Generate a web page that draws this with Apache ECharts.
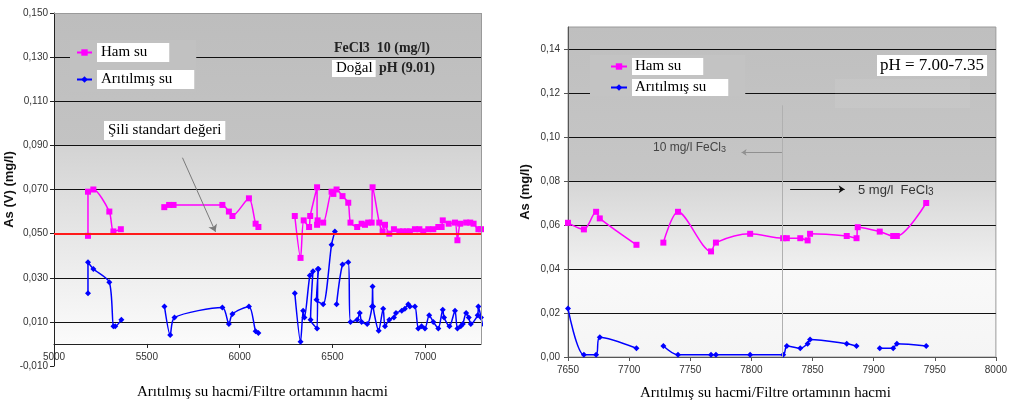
<!DOCTYPE html>
<html>
<head>
<meta charset="utf-8">
<script src="https://cdn.jsdelivr.net/npm/echarts@6/dist/echarts.min.js"></script>
<style>html,body{margin:0;padding:0;background:#fff;}#c{width:1010px;height:407px;}</style>
</head>
<body>
<div id="c"></div>
<script>
// ---------- DATA (null = gap in the line) ----------
const seriesNames = ['Ham su', 'Arıtılmış su'];

// Left panel (FeCl3 10 mg/l, natural pH)
const hamLeftX = [5183,5183,5212,5298,5320,5360,null,
  5594,5620,5644,5907,5942,5961,6050,6086,6101,null,
  6297,6328,6345,6374,6380,6417,6417,6420,6450,6495,6505,6522,6554,6585,6597,6633,6657,6675,6692,6711,6716,6752,6770,6783,6806,6831,6860,6880,6900,6917,6944,6968,6989,7016,7043,7070,7088,7094,7126,7160,7173,7188,7220,7242,7260,7286,7300];
const hamLeftY = [0.049,0.069,0.070,0.060,0.051,0.052,null,
  0.062,0.063,0.063,0.063,0.060,0.058,0.066,0.0545,0.053,null,
  0.058,0.039,0.056,0.053,0.058,0.071,0.054,0.056,0.055,0.069,0.068,0.070,0.067,0.064,0.055,0.053,0.0545,0.054,0.055,0.055,0.071,0.055,0.051,0.054,0.050,0.052,0.051,0.051,0.051,0.051,0.052,0.052,0.051,0.052,0.052,0.053,0.053,0.056,0.0545,0.055,0.047,0.0545,0.055,0.055,0.0545,0.052,0.052];

const aritLeftX = [5183,5183,5212,5298,5320,5330,5363,null,
  5595,5626,5649,5907,5942,5961,6050,6086,6101,null,
  6297,6328,6342,6349,6378,6395,6382,6417,6421,6425,6414,6450,6495,6513,null,
  6522,6554,6585,6597,6633,6647,6657,6687,6713,6716,6719,6749,6773,6783,6806,6831,6842,6873,6890,6908,6917,6944,6962,6980,6998,7021,7043,7070,7094,7101,7130,7160,7173,7191,7202,7220,7234,7245,7282,7286,7300,7310];
const aritLeftY = [0.023,0.037,0.034,0.028,0.008,0.008,0.011,null,
  0.017,0.004,0.012,0.0165,0.009,0.0136,0.017,0.0057,0.005,null,
  0.023,0.001,0.015,0.012,0.031,0.033,0.011,0.007,0.034,0.034,0.020,0.018,0.045,0.051,null,
  0.018,0.036,0.037,0.010,0.011,0.014,0.010,0.009,0.017,0.026,0.017,0.006,0.016,0.008,0.011,0.012,0.014,0.015,0.016,0.018,0.017,0.017,0.007,0.008,0.007,0.013,0.010,0.007,0.0155,0.012,0.008,0.015,0.007,0.008,0.009,0.014,0.012,0.009,0.013,0.017,0.012,0.008];

// Right panel (pH 7.00-7.35)
const hamRightX = [7650,7663,7673,7676,7706,null,
  7728,7740,7767,7771,7799,7826,7829,7840,7846,7848,7878,7886,7887,7905,7916,7919,7943];
const hamRightY = [0.061,0.058,0.066,0.063,0.051,null,
  0.052,0.066,0.048,0.052,0.056,0.054,0.054,0.054,0.053,0.056,0.055,0.054,0.059,0.057,0.055,0.055,0.070];

const aritRightX = [7650,7663,7673,7676,7706,null,
  7728,7740,7767,7771,7799,7826,7829,7840,7846,7848,7878,7886,null,
  7905,7916,7919,7943];
const aritRightY = [0.022,0.001,0.001,0.009,0.004,null,
  0.005,0.001,0.001,0.001,0.001,0.001,0.005,0.004,0.006,0.008,0.006,0.005,null,
  0.004,0.004,0.006,0.005];

// Axis settings (tick values)
const leftXTicks = {min: 5000, max: 7300, interval: 500};
const leftYTicks = {min: -0.010, max: 0.150, interval: 0.020};
const rightXTicks = {min: 7650, max: 8000, interval: 50};
const rightYTicks = {min: 0, max: 0.15, interval: 0.02};

const chileLimit = 0.050;
const feChangeX = 7825;

// ---------- CHART ----------
const pair = (xs, ys) => xs.map((x, i) => (x === null || ys[i] === null) ? ['-', '-'] : [x, ys[i]]);
const MAG = '#ff00ff', BLU = '#0000ff';
const SANS = 'Liberation Sans, Arial, sans-serif';
const SERIF = 'Liberation Serif, Times New Roman, serif';

const lg = (stops) => new echarts.graphic.LinearGradient(0, 0, 0, 1, stops.map(s => ({offset: s[0], color: s[1]})));

const chart = echarts.init(document.getElementById('c'), null, {renderer: 'canvas'});

const axisLbl = {fontFamily: SANS, fontSize: 10, color: '#333'};

// left grid geometry: x axis line sits at value 0
const LGH = 353;
const zeroOffset = -LGH * (0 - leftYTicks.min) / (leftYTicks.max - leftYTicks.min);

const option = {
  animation: false,
  backgroundColor: '#ffffff',
  grid: [
    {left: 54, top: 13, width: 427, height: LGH, show: true, borderWidth: 0,
     backgroundColor: lg([[0,'#bdbdbd'],[0.372,'#c3c3c3'],[0.376,'#d3d3d3'],[0.62,'#e6e6e6'],[0.935,'#fbfbfb'],[0.938,'#ffffff'],[1,'#ffffff']])},
    {left: 568, top: 27, width: 431, height: 330, show: true, borderColor: '#9a9a9a', borderWidth: 1,
     backgroundColor: lg([[0,'#bfbfbf'],[0.465,'#c6c6c6'],[0.468,'#d6d6d6'],[0.73,'#f0f0f0'],[0.735,'#f9f9f9'],[1,'#f5f5f5']])}
  ],
  xAxis: [
    {type: 'value', gridIndex: 0, min: leftXTicks.min, max: leftXTicks.max, interval: leftXTicks.interval,
     offset: zeroOffset,
     axisLine: {onZero: false, lineStyle: {color: '#222', width: 1}},
     axisTick: {show: true, length: 4, lineStyle: {color: '#222'}},
     axisLabel: Object.assign({margin: 8, showMaxLabel: false, formatter: v => String(v)}, axisLbl),
     splitLine: {show: false}},
    {type: 'value', gridIndex: 1, min: rightXTicks.min, max: rightXTicks.max, interval: rightXTicks.interval,
     axisLine: {lineStyle: {color: '#555', width: 1}},
     axisTick: {show: true, length: 4, lineStyle: {color: '#555'}},
     axisLabel: Object.assign({margin: 8, formatter: v => String(v)}, axisLbl),
     splitLine: {show: false}}
  ],
  yAxis: [
    {type: 'value', gridIndex: 0, min: leftYTicks.min, max: leftYTicks.max, interval: leftYTicks.interval,
     name: 'As (V) (mg/l)', nameLocation: 'middle', nameGap: 36,
     nameTextStyle: {fontFamily: SANS, fontSize: 13, fontWeight: 'bold', color: '#111'},
     axisLine: {show: true, lineStyle: {color: '#222', width: 1}},
     axisTick: {show: true, length: 4, lineStyle: {color: '#222'}},
     axisLabel: Object.assign({margin: 6, formatter: v => (Math.round(v * 1000) / 1000).toFixed(3).replace('.', ',')}, axisLbl),
     splitLine: {show: true, showMinLine: false, showMaxLine: false, lineStyle: {color: '#111', width: 1}}},
    {type: 'value', gridIndex: 1, min: rightYTicks.min, max: rightYTicks.max, interval: rightYTicks.interval,
     name: 'As (mg/l)', nameLocation: 'middle', nameGap: 36,
     nameTextStyle: {fontFamily: SANS, fontSize: 13, fontWeight: 'bold', color: '#111'},
     axisLine: {show: true, lineStyle: {color: '#555', width: 1}},
     axisTick: {show: true, length: 4, lineStyle: {color: '#555'}},
     axisLabel: Object.assign({margin: 8, showMaxLabel: false, formatter: v => (Math.round(v * 100) / 100).toFixed(2).replace('.', ',')}, axisLbl),
     splitLine: {show: true, showMinLine: false, showMaxLine: false, lineStyle: {color: '#111', width: 1}}}
  ],
  legend: [
    {data: seriesNames, orient: 'vertical', left: 70, top: 40, itemGap: 8, itemWidth: 15, itemHeight: 8,
     backgroundColor: '#c1c1c1', padding: [3, 2, 3, 6], selectedMode: false,
     textStyle: {fontFamily: SERIF, fontSize: 15, color: '#000', backgroundColor: '#ffffff', padding: [2, 22, 2, 4]}},
    {data: seriesNames, orient: 'vertical', left: 590, top: 55, itemGap: 4, itemWidth: 16, itemHeight: 8,
     backgroundColor: '#c3c3c3', padding: [3, 17, 0, 20], selectedMode: false,
     textStyle: {fontFamily: SERIF, fontSize: 15, color: '#000', backgroundColor: '#ffffff', padding: [1, 22, 1, 3]}}
  ],
  series: [
    {name: seriesNames[0], type: 'line', xAxisIndex: 0, yAxisIndex: 0, data: pair(hamLeftX, hamLeftY),
     smooth: 0.25, symbol: 'rect', symbolSize: 6, lineStyle: {color: MAG, width: 1.5}, itemStyle: {color: MAG},
     markLine: {silent: true, symbol: ['none', 'none'], label: {show: false},
       data: [
         {yAxis: chileLimit, lineStyle: {color: '#ff1a1a', width: 2, type: 'solid'}},
         [{coord: [leftXTicks.min, leftYTicks.max], lineStyle: {color: '#9a9a9a', width: 1, type: 'solid'}}, {coord: [leftXTicks.max, leftYTicks.max]}],
         [{coord: [leftXTicks.max, 0], lineStyle: {color: '#9a9a9a', width: 1, type: 'solid'}}, {coord: [leftXTicks.max, leftYTicks.max]}],
         [{coord: [5692, 0.0844], lineStyle: {color: '#7a7a7a', width: 1, type: 'solid'}}, {coord: [5870, 0.0508], symbol: 'arrow', symbolSize: 7}]
       ]}},
    {name: seriesNames[1], type: 'line', xAxisIndex: 0, yAxisIndex: 0, data: pair(aritLeftX, aritLeftY),
     smooth: 0.25, symbol: 'diamond', symbolSize: 6, lineStyle: {color: BLU, width: 1.5}, itemStyle: {color: BLU}},
    {name: seriesNames[0], type: 'line', xAxisIndex: 1, yAxisIndex: 1, data: pair(hamRightX, hamRightY),
     smooth: 0.3, symbol: 'rect', symbolSize: 6, lineStyle: {color: MAG, width: 1.5}, itemStyle: {color: MAG},
     markLine: {silent: true, symbol: ['none', 'none'], label: {show: false},
       data: [
         [{coord: [feChangeX, 0], lineStyle: {color: '#b0b0b0', width: 1, type: 'solid'}}, {coord: [feChangeX, 0.1144]}],
         [{coord: [feChangeX, 0.093], lineStyle: {color: '#909090', width: 1, type: 'solid'}}, {coord: [7792, 0.093], symbol: 'arrow', symbolSize: 5}],
         [{coord: [7831.7, 0.0762], lineStyle: {color: '#111', width: 1, type: 'solid'}}, {coord: [7876.3, 0.0762], symbol: 'arrow', symbolSize: 6}]
       ]}},
    {name: seriesNames[1], type: 'line', xAxisIndex: 1, yAxisIndex: 1, data: pair(aritRightX, aritRightY),
     smooth: 0.3, symbol: 'diamond', symbolSize: 6, lineStyle: {color: BLU, width: 1.5}, itemStyle: {color: BLU}}
  ],
  graphic: [
    {type: 'rect', z: 1, shape: {x: 835, y: 79, width: 135, height: 29}, style: {fill: 'rgba(255,255,255,0.07)'}},
    {type: 'text', z: 100, left: 104, top: 121,
     style: {text: 'Şili standart değeri', font: '15px ' + SERIF, fill: '#000', backgroundColor: '#fff', padding: [2, 4, 2, 4]}},
    {type: 'text', z: 100, left: 334, top: 41,
     style: {text: 'FeCl3  10 (mg/l)', font: 'bold 14px ' + SERIF, fill: '#222'}},
    {type: 'text', z: 100, left: 332, top: 60,
     style: {text: '{a|Doğal} {b|pH (9.01)}', rich: {
       a: {font: '15px ' + SERIF, fill: '#000', backgroundColor: '#fff', padding: [1, 3, 1, 4]},
       b: {font: 'bold 14px ' + SERIF, fill: '#222'}}}},
    {type: 'text', z: 100, left: 877, top: 55,
     style: {text: 'pH = 7.00-7.35', font: '17px ' + SERIF, fill: '#000', backgroundColor: '#fff', padding: [2, 3, 2, 3]}},
    {type: 'text', z: 100, left: 653, top: 142,
     style: {text: '{a|10 mg/l FeCl}{s|3}', rich: {
       a: {font: '12px ' + SANS, fill: '#444'}, s: {font: '9px ' + SANS, fill: '#444', padding: [4, 0, 0, 0]}}}},
    {type: 'text', z: 100, left: 858, top: 184,
     style: {text: '{a|5 mg/l  FeCl}{s|3}', rich: {
       a: {font: '13px ' + SANS, fill: '#333'}, s: {font: '10px ' + SANS, fill: '#333', padding: [4, 0, 0, 0]}}}},
    {type: 'text', z: 100, left: 137, top: 385, style: {text: 'Arıtılmış su hacmi/Filtre ortamının hacmi', font: '15px ' + SERIF, fill: '#000'}},
    {type: 'text', z: 100, left: 640, top: 386, style: {text: 'Arıtılmış su hacmi/Filtre ortamının hacmi', font: '15px ' + SERIF, fill: '#000'}}
  ]
};
chart.setOption(option);
</script>
</body>
</html>
